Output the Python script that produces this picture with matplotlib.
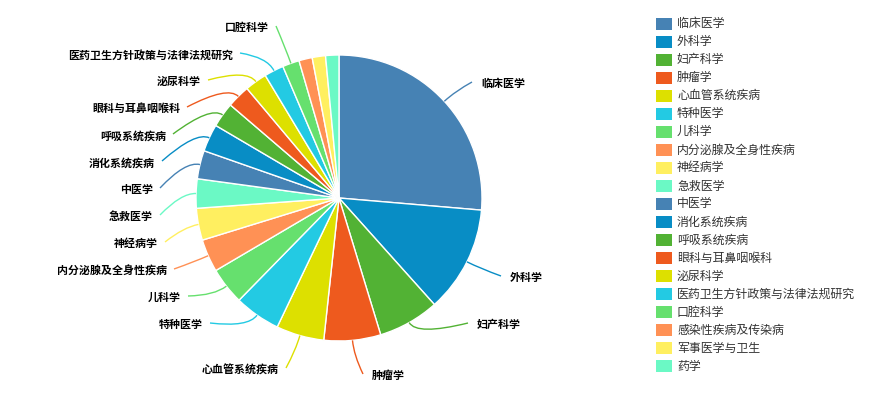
import numpy as np
import matplotlib.pyplot as plt
from matplotlib.path import Path
from matplotlib.patches import PathPatch, Rectangle

plt.rcParams['font.family'] = ['Noto Sans CJK SC', 'DejaVu Sans']

categories = ['临床医学', '外科学', '妇产科学', '肿瘤学', '心血管系统疾病', '特种医学', '儿科学',
              '内分泌腺及全身性疾病', '神经病学', '急救医学', '中医学', '消化系统疾病', '呼吸系统疾病',
              '眼科与耳鼻咽喉科', '泌尿科学', '医药卫生方针政策与法律法规研究', '口腔科学',
              '感染性疾病及传染病', '军事医学与卫生', '药学']
counts = [263, 120, 69, 64, 54, 52, 42, 37, 36, 33, 32, 31, 28, 26, 25, 22, 19, 15, 15, 15]

palette = ['#4682b4', '#088dc5', '#52b234', '#ee5a1e', '#dde000',
           '#23cae3', '#66e06e', '#ff9155', '#ffef60', '#6bf9c5']
colors = [palette[i % len(palette)] for i in range(len(categories))]

# label text anchor in pixels (x, y); slices not listed get no label
label_pos = {
    '临床医学': (481, 84), '外科学': (510, 278), '妇产科学': (477, 325), '肿瘤学': (372, 376),
    '心血管系统疾病': (279, 370), '特种医学': (203, 325), '儿科学': (181, 298),
    '内分泌腺及全身性疾病': (167, 271), '神经病学': (158, 244), '急救医学': (153, 217),
    '中医学': (153, 190), '消化系统疾病': (155, 163), '呼吸系统疾病': (166, 136),
    '眼科与耳鼻咽喉科': (180, 109), '泌尿科学': (201, 82),
    '医药卫生方针政策与法律法规研究': (233, 55), '口腔科学': (269, 28),
}

W, H = 873, 393
cx, cy, R = 339, 198, 143

fig = plt.figure(figsize=(W / 100, H / 100), dpi=100)
ax = fig.add_axes([0, 0, 1, 1])

wedges, _ = ax.pie(counts, colors=colors, startangle=90, counterclock=False,
                   center=(cx, H - cy), radius=R,
                   wedgeprops=dict(edgecolor='white', linewidth=1))

for w, name, col in zip(wedges, categories, colors):
    if name not in label_pos:
        continue
    mid = np.deg2rad((w.theta1 + w.theta2) / 2)
    ex, ey = cx + R * np.cos(mid), H - cy + R * np.sin(mid)
    bx, by = cx + (R + 15) * np.cos(mid), H - cy + (R + 15) * np.sin(mid)
    tx, ty = label_pos[name]
    right = np.cos(mid) > 0
    lx = tx - 9 if right else tx + 7
    ly = H - ty + 2
    path = Path([(ex, ey), (bx, by), (lx, ly)], [Path.MOVETO, Path.CURVE3, Path.CURVE3])
    ax.add_patch(PathPatch(path, fill=False, edgecolor=col, linewidth=1))
    ax.text(tx, H - ty, name, fontsize=7.9, color='black', fontweight='bold',
            ha='left' if right else 'right', va='center')

# legend column
for i, (name, col) in enumerate(zip(categories, colors)):
    yc = 23.5 + i * 18.05
    ax.add_patch(Rectangle((656, H - yc - 6), 16, 12, facecolor=col, edgecolor='none'))
    ax.text(677, H - yc, name, fontsize=8.6, color='#333333', va='center', ha='left')

ax.set_xlim(0, W)
ax.set_ylim(0, H)
ax.set_aspect('auto')
ax.axis('off')

fig.savefig('out.png', dpi=100, facecolor='white')
